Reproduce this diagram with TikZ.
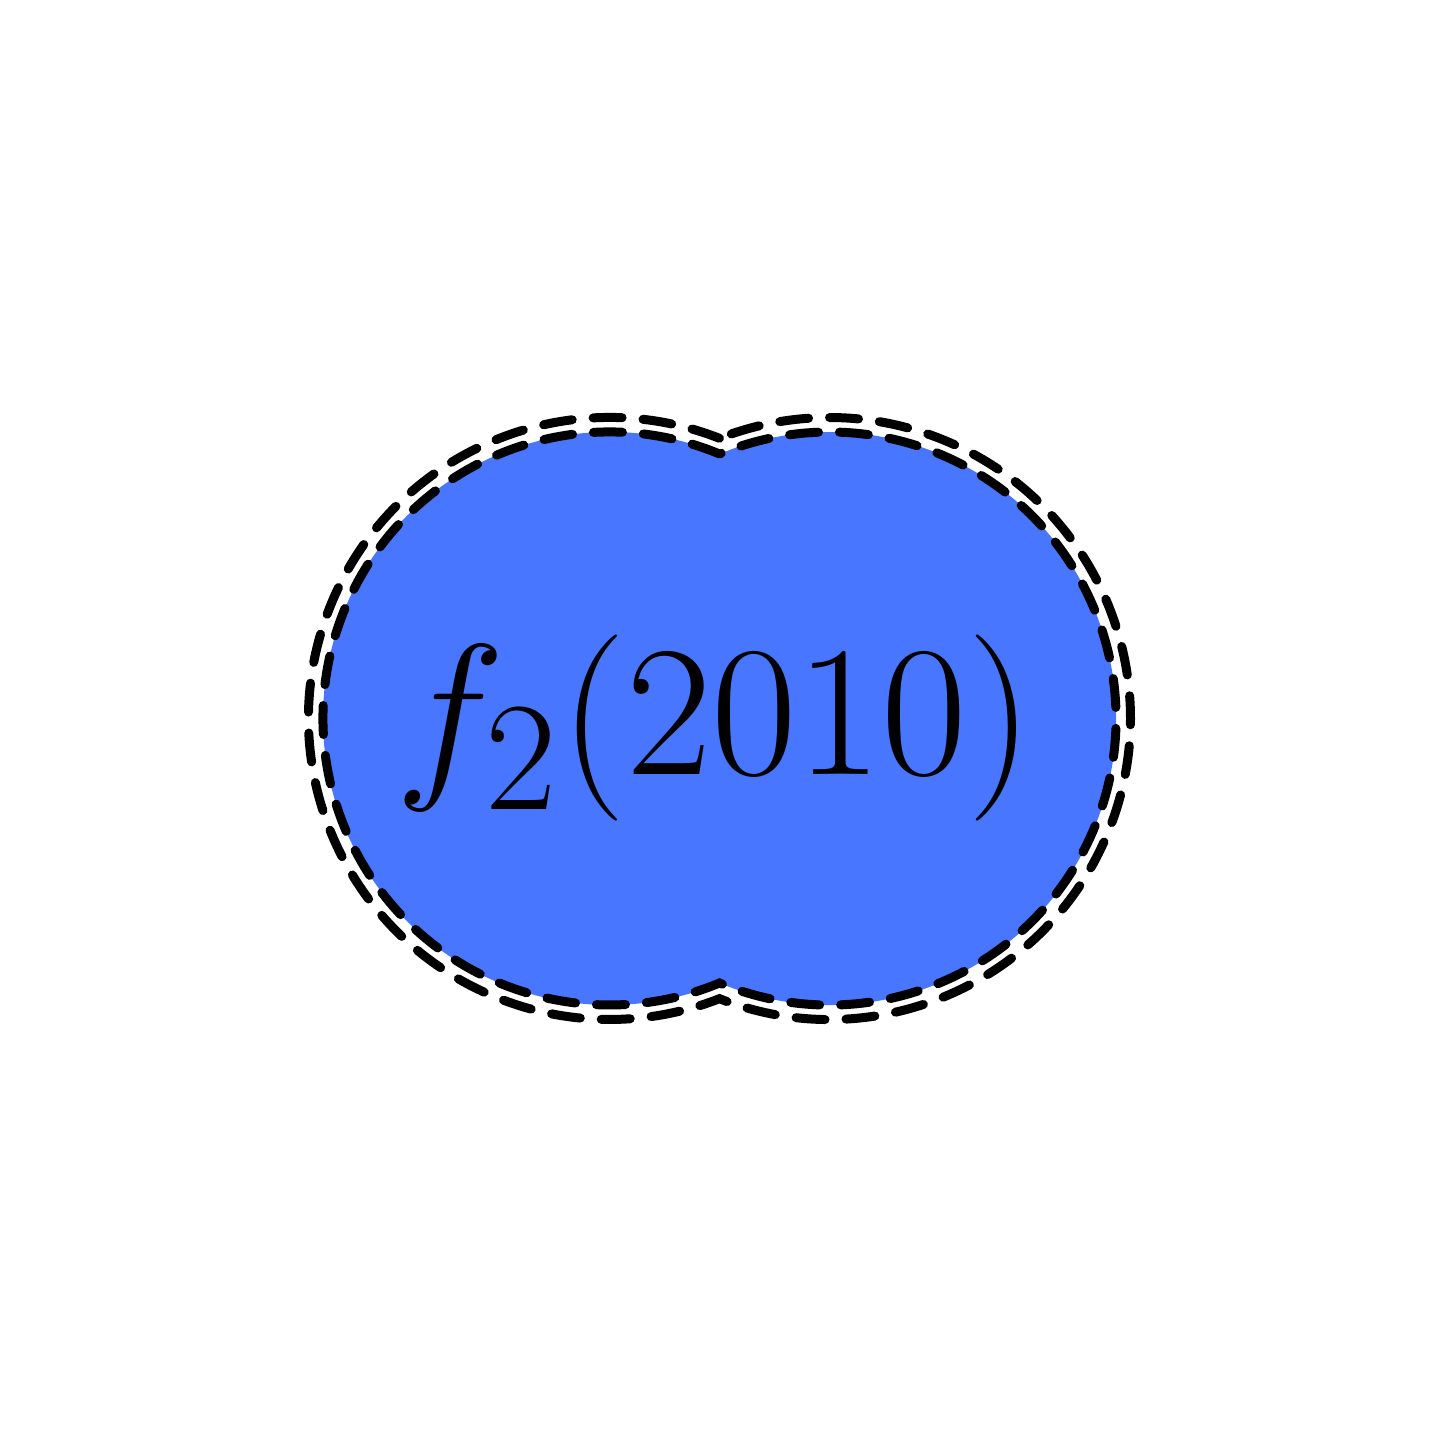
\documentclass[tikz,border=0pt]{standalone}
\begin{document}
\definecolor{blobblue}{RGB}{72,118,255}
\begin{tikzpicture}[
  outline/.style={draw=black, line width=0.09cm, line cap=round, dash pattern=on 0.29cm off 0.21cm},
]
\useasboundingbox (0,0) rectangle (14.4,14.4);
\coordinate (L) at (6.095,7.215);
\coordinate (R) at (8.295,7.215);
% filled union of two circles (inner outline)
\fill[blobblue] (L) ++(67.42:2.865) arc[start angle=67.42, end angle=292.58, radius=2.865]
  arc[start angle=-112.58, end angle=112.58, radius=2.865] -- cycle;
\draw[outline] (L) ++(67.42:2.865) arc[start angle=67.42, end angle=292.58, radius=2.865]
  arc[start angle=-112.58, end angle=112.58, radius=2.865] -- cycle;
\draw[outline] (L) ++(68.57:3.01) arc[start angle=68.57, end angle=291.43, radius=3.01]
  arc[start angle=-111.43, end angle=111.43, radius=3.01] -- cycle;
\node[inner sep=0pt, scale=2.13, transform shape, font=\Huge] (label) at (7.145,7.125) {$f_2(2010)$};
\end{tikzpicture}
\end{document}
